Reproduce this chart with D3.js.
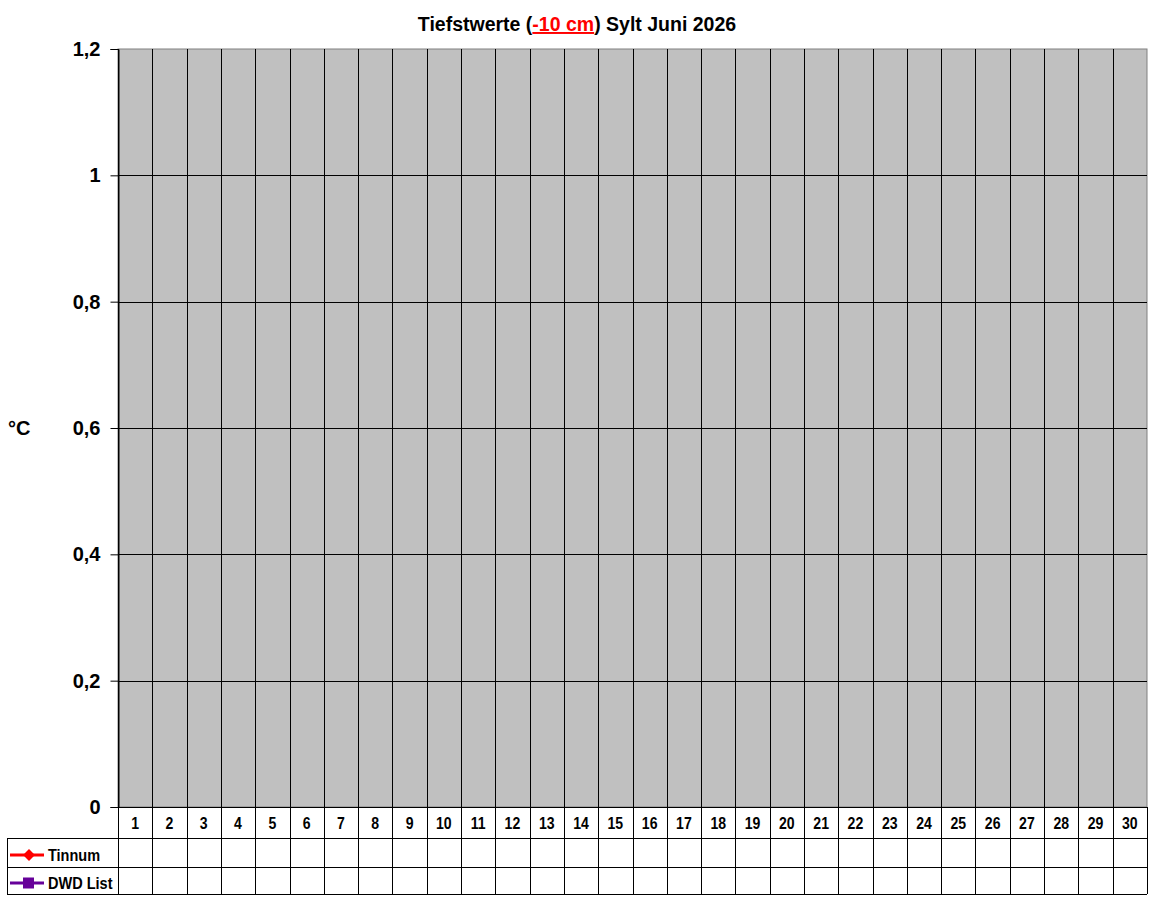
<!DOCTYPE html>
<html>
<head>
<meta charset="utf-8">
<script src="https://cdn.jsdelivr.net/npm/d3@7"></script>
<style>
  body { margin: 0; background: #fff; }
  text { font-family: "Liberation Sans", Arial, sans-serif; font-weight: bold; }
</style>
</head>
<body>
<svg id="chart" width="1152" height="900"></svg>
<script>
// days of the month (x categories)
var days = d3.range(1, 31);
// y ticks
var yTicks = [0, 0.2, 0.4, 0.6, 0.8, 1, 1.2];
// series (no values yet this month)
var tinnum = [];
var dwdList = [];
var seriesNames = ["Tinnum", "DWD List"];
var seriesColors = ["#ff0000", "#660099"];

var plotLeft = 118, plotRight = 1147, plotTop = 49, plotBottom = 807;
var rowH = [31, 29, 27]; // day row, Tinnum row, DWD row

var svg = d3.select("#chart");

var x = d3.scaleBand().domain(days).range([plotLeft, plotRight]);
var y = d3.scaleLinear().domain([0, 1.2]).range([plotBottom, plotTop]);

// title
var title = svg.append("text")
  .attr("x", 577).attr("y", 31)
  .attr("text-anchor", "middle")
  .attr("font-size", 19.5);
title.append("tspan").text("Tiefstwerte (");
title.append("tspan").attr("fill", "#ff0000").attr("text-decoration", "underline").text("-10 cm");
title.append("tspan").text(") Sylt Juni 2026");

// plot background
svg.append("rect")
  .attr("x", plotLeft).attr("y", plotTop)
  .attr("width", plotRight - plotLeft).attr("height", plotBottom - plotTop)
  .attr("fill", "#c0c0c0")
  .attr("stroke", "#808080");

// horizontal gridlines
svg.selectAll(".hgrid")
  .data(yTicks.filter(d => d > 0 && d < 1.2))
  .enter().append("line")
  .attr("x1", plotLeft).attr("x2", plotRight)
  .attr("y1", d => Math.round(y(d)) + 0.5).attr("y2", d => Math.round(y(d)) + 0.5)
  .attr("stroke", "#000");

// vertical gridlines through plot and data table
var tableBottom = plotBottom + rowH[0] + rowH[1] + rowH[2];
svg.selectAll(".vgrid")
  .data(days)
  .enter().append("line")
  .attr("x1", d => Math.round(x(d)) + 0.5).attr("x2", d => Math.round(x(d)) + 0.5)
  .attr("y1", plotTop).attr("y2", tableBottom)
  .attr("stroke", "#000");
svg.append("line")
  .attr("x1", plotRight + 0.5).attr("x2", plotRight + 0.5)
  .attr("y1", plotBottom).attr("y2", tableBottom)
  .attr("stroke", "#000");

// y axis
var yAxis = svg.append("g")
  .attr("transform", "translate(" + (plotLeft + 0.5) + ",0)")
  .call(d3.axisLeft(y).tickValues(yTicks).tickSize(8).tickPadding(10)
    .tickFormat(d => String(d).replace(".", ",")));
yAxis.select(".domain").attr("stroke", "#000");
yAxis.selectAll(".tick line").attr("stroke", "#000");
yAxis.selectAll("text")
  .attr("font-size", 20).attr("fill", "#000")
  .attr("font-family", "Liberation Sans, Arial, sans-serif")
  .attr("font-weight", "bold");

svg.append("text")
  .attr("x", 8).attr("y", 435)
  .attr("font-size", 20)
  .text("°C");

// data table rows
var r1 = plotBottom + rowH[0], r2 = r1 + rowH[1], r3 = r2 + rowH[2];
svg.append("line").attr("x1", plotLeft).attr("x2", plotRight).attr("y1", plotBottom + 0.5).attr("y2", plotBottom + 0.5).attr("stroke", "#000");
[r1, r2, r3].forEach(function(ry) {
  svg.append("line").attr("x1", 7).attr("x2", plotRight).attr("y1", ry + 0.5).attr("y2", ry + 0.5).attr("stroke", "#000");
});
svg.append("line").attr("x1", 7.5).attr("x2", 7.5).attr("y1", r1).attr("y2", r3).attr("stroke", "#000");

// day labels
svg.selectAll(".day")
  .data(days)
  .enter().append("text")
  .attr("x", d => x(d) + x.bandwidth() / 2)
  .attr("y", plotBottom + 22)
  .attr("text-anchor", "middle")
  .attr("font-size", 16)
  .attr("transform", d => "translate(" + (x(d) + x.bandwidth() / 2) * 0.12 + ",0) scale(0.88,1)")
  .text(d => d);

// legend keys inside table
var rowsY = [855, 883];
seriesNames.forEach(function(name, i) {
  var cy = rowsY[i];
  svg.append("line")
    .attr("x1", 10).attr("x2", 44).attr("y1", cy).attr("y2", cy)
    .attr("stroke", seriesColors[i]).attr("stroke-width", 3);
  if (i === 0) {
    svg.append("path")
      .attr("d", d3.symbol(d3.symbolDiamond2, 90)())
      .attr("transform", "translate(29," + cy + ")")
      .attr("fill", seriesColors[i]);
  } else {
    svg.append("rect")
      .attr("x", 23).attr("y", cy - 5.5).attr("width", 11).attr("height", 11)
      .attr("fill", seriesColors[i]);
  }
  svg.append("text")
    .attr("x", 48).attr("y", cy + 6.5)
    .attr("font-size", 16.5)
    .attr("transform", "translate(" + 48 * 0.12 + ",0) scale(0.88,1)")
    .text(name);
});
</script>
</body>
</html>
